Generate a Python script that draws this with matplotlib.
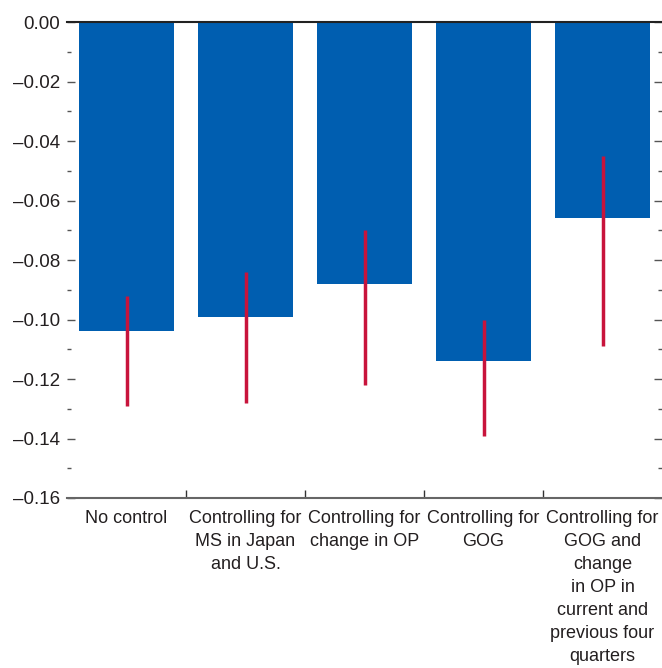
import matplotlib.pyplot as plt
from matplotlib.ticker import MultipleLocator

categories = ['No control', 'Controlling for\nMS in Japan\nand U.S.', 'Controlling for\nchange in OP',
              'Controlling for\nGOG', 'Controlling for\nGOG and\nchange\nin OP in\ncurrent and\nprevious four\nquarters']
values = [-0.104, -0.099, -0.088, -0.114, -0.066]
err_high = [-0.092, -0.084, -0.070, -0.100, -0.045]
err_low = [-0.129, -0.128, -0.122, -0.139, -0.109]

plt.rcParams['font.family'] = ['Liberation Sans', 'DejaVu Sans']

fig = plt.figure(figsize = (6.62, 6.68), dpi = 100)
ax = fig.add_axes([67/662, 0.2545, 595/662, 0.7125])

x = list(range(len(categories)))
ax.bar(x, values, width = 0.8, color = '#005EB0', zorder = 2)
ax.vlines(x, err_low, err_high, color = '#C8143C', linewidth = 2.5, zorder = 3)

ax.set_xlim(-0.5, 4.5)
ax.set_ylim(-0.16, 0.0)
ax.yaxis.set_minor_locator(MultipleLocator(0.01))
ax.set_yticks([0, -0.02, -0.04, -0.06, -0.08, -0.10, -0.12, -0.14, -0.16])
ax.set_yticklabels([f'{v:.2f}'.replace('-', '\u2013') for v in ax.get_yticks()])
ax.tick_params(axis = 'y', which = 'both', direction = 'in', left = True, right = True,
               labelsize = 13.5, colors = '#231F20', pad = 5)
ax.tick_params(axis = 'y', which = 'major', length = 6, width = 1, color = '#555555')
ax.tick_params(axis = 'y', which = 'minor', length = 3, width = 1, color = '#555555')

# category boundaries as bottom ticks, labels at the centers
ax.set_xticks([0.5, 1.5, 2.5, 3.5], minor = True)
ax.set_xticks(x)
ax.set_xticklabels(categories, fontsize = 13, color = '#231F20', linespacing = 1.45)
ax.tick_params(axis = 'x', which = 'major', length = 0, pad = 9)
ax.tick_params(axis = 'x', which = 'minor', direction = 'in', length = 6, width = 1, color = '#333333')

for s in ['left', 'right']:
    ax.spines[s].set_visible(False)
ax.spines['top'].set_color('#222222')
ax.spines['top'].set_linewidth(1.5)
ax.spines['bottom'].set_color('#666666')
ax.spines['bottom'].set_linewidth(1.5)

plt.savefig('out.png', dpi = 100)
